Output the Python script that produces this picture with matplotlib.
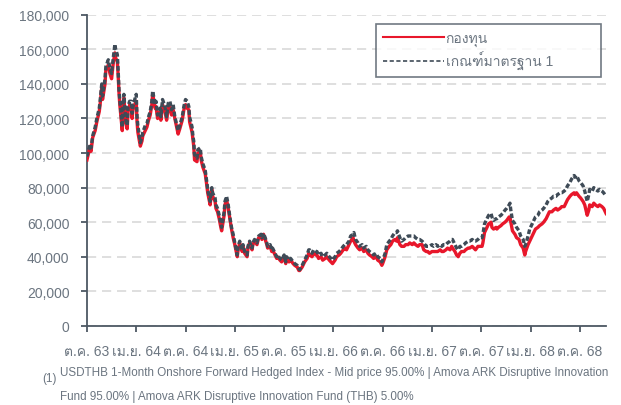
import matplotlib
matplotlib.use('Agg')
import matplotlib.pyplot as plt
from matplotlib import font_manager
from matplotlib.ft2font import FT2Font
from matplotlib.lines import Line2D
from matplotlib.ticker import FuncFormatter

# find any installed font that can draw Thai
thai_fonts = []
for f in font_manager.fontManager.ttflist:
    try:
        if 0x0E01 in FT2Font(f.fname).get_charmap() and f.name not in thai_fonts:
            thai_fonts.append(f.name)
    except Exception:
        pass
plt.rcParams['font.family'] = ['Liberation Sans'] + thai_fonts + ['DejaVu Sans']

# months since Oct 2020 (ต.ค. 63), values in thousands
months = [0.0, 0.2, 0.4, 0.5, 0.7, 1.0, 1.2, 1.5, 1.6, 1.8, 1.9, 2.2, 2.3, 2.6, 2.8, 3.0, 3.2, 3.4, 3.5, 3.7,
          3.8, 3.9, 4.0, 4.3, 4.4, 4.5, 4.6, 4.7, 4.9, 5.0, 5.2, 5.4, 5.5, 5.6, 5.7, 6.0, 6.1, 6.2, 6.5, 6.7,
          6.8, 7.1, 7.3, 7.5, 7.7, 7.9, 8.0, 8.3, 8.4, 8.6, 8.9, 9.0, 9.2, 9.5, 9.7, 9.9, 10.1, 10.3, 10.5, 10.7,
          11.1, 11.3, 11.6, 11.8, 12.0, 12.2, 12.4, 12.5, 12.8, 12.9, 13.0, 13.1, 13.4, 13.5, 13.8, 13.9, 14.1, 14.4, 14.6, 14.7,
          15.0, 15.1, 15.2, 15.3, 15.6, 15.7, 15.9, 16.1, 16.3, 16.4, 16.7, 16.8, 17.0, 17.2, 17.4, 17.6, 17.8, 18.0, 18.3, 18.4,
          18.6, 18.9, 19.0, 19.2, 19.5, 19.6, 19.8, 20.1, 20.2, 20.4, 20.7, 20.9, 21.2, 21.3, 21.5, 21.7, 21.9, 22.0, 22.3, 22.5,
          22.6, 22.9, 23.1, 23.2, 23.5, 23.7, 24.0, 24.2, 24.3, 24.6, 24.8, 25.1, 25.3, 25.6, 25.8, 25.9, 26.2, 26.4, 26.5, 26.8,
          27.0, 27.1, 27.4, 27.6, 27.9, 28.0, 28.2, 28.5, 28.7, 29.0, 29.2, 29.5, 29.7, 29.9, 30.2, 30.4, 30.7, 30.9, 31.2, 31.4,
          31.6, 31.9, 32.1, 32.4, 32.5, 32.7, 33.0, 33.2, 33.5, 33.7, 34.0, 34.2, 34.4, 34.7, 34.9, 35.2, 35.4, 35.7, 35.9, 36.0,
          36.3, 36.5, 36.8, 37.0, 37.2, 37.5, 37.7, 37.8, 38.1, 38.3, 38.6, 38.8, 39.1, 39.3, 39.6, 39.8, 40.0, 40.3, 40.5, 40.8,
          41.0, 41.3, 41.5, 41.7, 42.0, 42.2, 42.5, 42.7, 43.0, 43.2, 43.4, 43.7, 43.9, 44.2, 44.4, 44.5, 44.8, 45.0, 45.2, 45.4,
          45.6, 45.9, 46.1, 46.4, 46.6, 46.9, 47.1, 47.3, 47.6, 47.8, 48.1, 48.2, 48.4, 48.7, 48.9, 49.2, 49.3, 49.5, 49.8, 49.9,
          50.1, 50.4, 50.6, 50.9, 51.1, 51.4, 51.5, 51.6, 51.8, 52.1, 52.3, 52.6, 52.8, 53.1, 53.3, 53.4, 53.7, 53.9, 54.2, 54.4,
          54.6, 54.9, 55.1, 55.4, 55.6, 55.9, 56.1, 56.3, 56.6, 56.8, 57.1, 57.3, 57.6, 57.8, 58.1, 58.3, 58.5, 58.8, 59.0, 59.3,
          59.4, 59.6, 59.9, 60.1, 60.4, 60.6, 60.9, 61.1, 61.2, 61.5, 61.7, 61.9, 62.2, 62.4, 62.7, 62.9, 63.2]

fund = [96, 100, 104, 101, 109, 113, 118, 124, 128, 138, 131, 140, 148, 151, 146, 143, 152, 158, 155, 153,
        145, 135, 128, 113, 125, 132, 125, 118, 114, 124, 128, 126, 120, 125, 127, 130, 118, 112, 104, 107,
        110, 113, 115, 119, 122, 128, 134, 126, 127, 120, 124, 119, 128, 124, 119, 126, 127, 122, 125, 120,
        111, 114, 119, 125, 128, 126, 125, 118, 112, 108, 104, 96, 95, 100, 101, 96, 92, 88, 81, 77,
        70, 75, 79, 75, 72, 68, 66, 62, 57, 55, 64, 70, 73, 68, 62, 56, 51, 47, 40, 44,
        48, 43, 46, 42, 40, 45, 48, 44, 47, 49, 47, 51, 52, 50, 53, 50, 47, 45, 46, 43,
        44, 41, 39, 40, 38, 37, 40, 36, 39, 37, 38, 36, 35, 34, 32, 32, 34, 36, 37, 39,
        42, 41, 40, 42, 41, 41, 39, 40, 38, 39, 40, 38, 37, 36, 38, 40, 41, 42, 44, 45,
        44, 47, 49, 51, 49, 47, 45, 44, 45, 43, 44, 42, 41, 40, 39, 40, 38, 37, 35, 36,
        40, 44, 46, 47, 49, 50, 49, 51, 47, 46, 46, 47, 47, 48, 47, 48, 47, 46, 47, 47,
        44, 43, 43, 42, 43, 43, 43, 43, 44, 43, 43, 44, 45, 44, 46, 45, 43, 41, 40, 42,
        43, 43, 44, 45, 45, 46, 45, 44, 46, 46, 46, 48, 54, 57, 59, 60, 57, 56, 57, 56,
        57, 58, 59, 60, 61, 63, 63, 60, 55, 53, 51, 50, 47, 45, 41, 43, 47, 49, 52, 54,
        56, 57, 58, 59, 60, 62, 64, 66, 66, 67, 68, 67, 68, 69, 69, 71, 73, 75, 76, 77,
        76, 77, 75, 74, 72, 70, 64, 67, 70, 69, 71, 70, 69, 70, 69, 68, 65]

bench = [98, 102, 105, 103, 110, 115, 120, 126, 130, 140, 133, 143, 150, 154, 149, 146, 155, 163, 160, 157,
         148, 137, 131, 115, 128, 134, 127, 120, 116, 127, 130, 130, 123, 127, 129, 134, 121, 116, 106, 109,
         112, 116, 117, 121, 124, 130, 136, 128, 130, 122, 126, 121, 131, 127, 121, 129, 130, 125, 128, 121,
         113, 116, 121, 127, 131, 130, 127, 121, 115, 110, 107, 99, 97, 102, 103, 98, 94, 90, 83, 79,
         72, 77, 80, 77, 74, 70, 68, 64, 59, 57, 66, 72, 75, 70, 63, 57, 53, 48, 41, 46,
         49, 44, 47, 43, 41, 46, 49, 45, 48, 50, 48, 52, 53, 51, 53.5, 51, 48, 46, 47, 44,
         45, 42, 40, 41, 39, 38, 41, 37, 40, 38, 39, 37, 36, 35, 33, 32.5, 35, 37, 38, 41,
         44, 44, 42, 44, 43, 43, 41, 42, 40, 41, 42, 40, 39, 38, 40, 42, 43, 44, 46, 47,
         47, 49, 52, 53, 54, 50, 48, 46, 47, 45, 46, 44, 43, 42, 41, 42, 40, 39, 37, 38,
         42, 47, 49, 50, 52, 54, 54, 55, 51, 49, 50, 51, 52, 52, 52, 52, 51, 50, 50, 49,
         48, 46, 46, 46, 47, 46, 47, 46, 47, 46, 47, 47, 48, 49, 50, 50, 47, 45, 44, 46,
         46, 47, 48, 49, 49, 50, 49, 49, 50, 51, 51, 53, 59, 62, 64, 65, 63, 61, 62, 62,
         63, 64, 65, 67, 68, 70, 71, 67, 61, 59, 57, 55, 52, 50, 46, 47, 52, 56, 59, 61,
         63, 64, 66, 67, 68, 70, 72, 73, 74, 75, 75, 76, 77, 77, 78, 79, 81, 83, 85, 87,
         86, 87, 84, 83, 81, 78, 72, 76, 79, 78, 80, 79, 78, 79, 78, 77, 75]

tick_months = [0, 6, 12, 18, 24, 30, 36, 42, 48, 54, 60]
tick_labels = ['ต.ค. 63', 'เม.ย. 64', 'ต.ค. 64', 'เม.ย. 65', 'ต.ค. 65', 'เม.ย. 66',
               'ต.ค. 66', 'เม.ย. 67', 'ต.ค. 67', 'เม.ย. 68', 'ต.ค. 68']
legend_labels = ['กองทุน', 'เกณฑ์มาตรฐาน 1']
footnote_1 = 'USDTHB 1-Month Onshore Forward Hedged Index - Mid price 95.00% | Amova ARK Disruptive Innovation'
footnote_2 = 'Fund 95.00% | Amova ARK Disruptive Innovation Fund (THB) 5.00%'

RED = '#e8172b'
DARK = '#3f4b57'
AXIS = '#4d5863'
TEXT = '#6b7580'

fig = plt.figure(figsize=(6.21, 4.06), dpi=100)
ax = fig.add_axes([0.140, 0.195, 0.836, 0.766])

ax.plot(months, [v * 1000 for v in fund], color=RED, lw=2.4, zorder=3)
ax.plot(months, [v * 1000 for v in bench], color=DARK, lw=2.4, ls=(0, (1.4, 0.7)), zorder=4)

ax.set_xlim(0, 63.2)
ax.set_ylim(0, 180000)
ax.set_yticks(range(0, 180001, 20000))
ax.yaxis.set_major_formatter(FuncFormatter(lambda v, p: '{:,.0f}'.format(v)))
ax.set_xticks(tick_months)
ax.set_xticklabels(tick_labels)

ax.grid(axis='y', color='#d9d9d9', lw=1.2, ls=(0, (5.5, 3.5)), zorder=0)
for side in ['top', 'right']:
    ax.spines[side].set_visible(False)
for side in ['left', 'bottom']:
    ax.spines[side].set_color(AXIS)
    ax.spines[side].set_linewidth(1.3)
ax.tick_params(axis='both', colors=AXIS, labelcolor=TEXT, labelsize=10, width=1.3)
ax.tick_params(axis='y', length=4.5, pad=8)
ax.tick_params(axis='x', length=4, pad=9)

handles = [Line2D([], [], color=RED, lw=1.5),
           Line2D([], [], color=DARK, lw=1.2, ls=(0, (2.5, 1.5)))]
leg = ax.legend(handles, legend_labels, loc='upper left', mode='expand',
                bbox_to_anchor=(0.557, 0.797, 0.433, 0.174),
                fontsize=10, frameon=True, fancybox=False, handlelength=4.4, handletextpad=0.1,
                borderpad=0.5, labelspacing=0.35, borderaxespad=0)
leg.get_frame().set_edgecolor(AXIS)
leg.get_frame().set_linewidth(1.2)
for t in leg.get_texts():
    t.set_color(TEXT)

fig.text(42 / 621, 1 - 379 / 406, '(1)', fontsize=8.4, color=TEXT, va='center')
fig.text(60 / 621, 1 - 373 / 406, footnote_1, fontsize=8.4, color=TEXT, va='center')
fig.text(60 / 621, 1 - 397 / 406, footnote_2, fontsize=8.4, color=TEXT, va='center')

fig.savefig('out.png', dpi=100)
